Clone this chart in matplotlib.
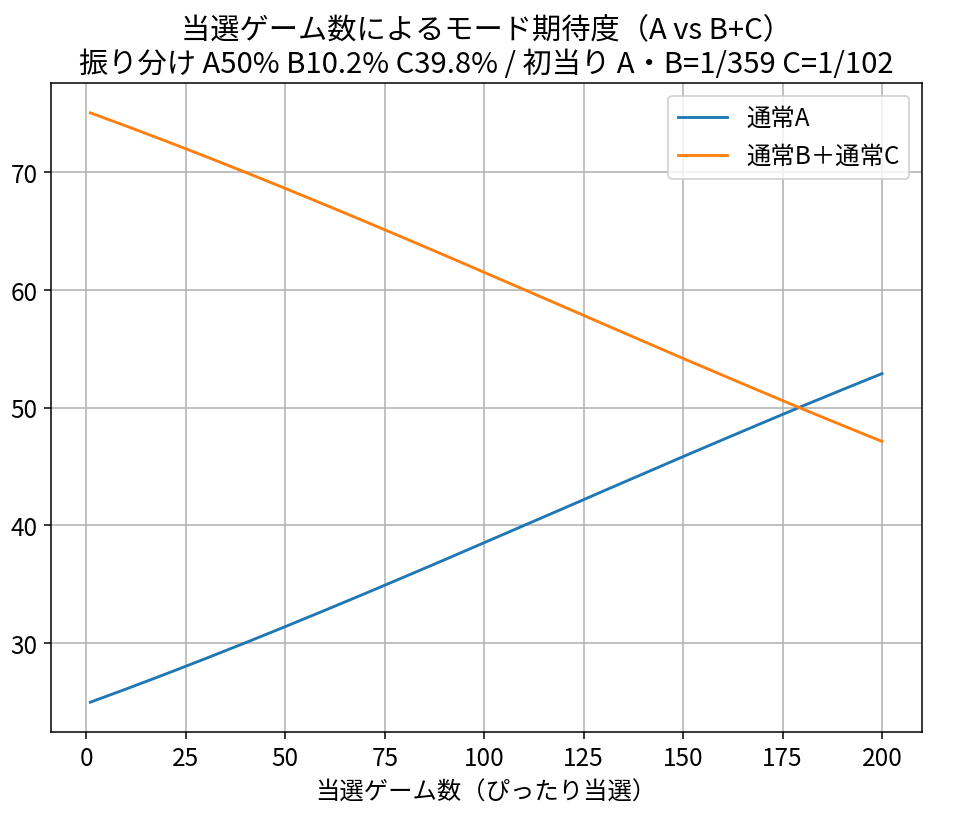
import matplotlib.pyplot as plt

plt.rcParams['font.family'] = ['Noto Sans CJK JP', 'DejaVu Sans']
plt.rcParams['font.size'] = 12.8

# ── DATA ──────────────────────────────────────────────────────────────
games = [1, 10, 20, 30, 40, 50, 60, 70, 80, 90, 100,
         110, 120, 130, 140, 150, 160, 170, 180, 190, 200]
mode_a = [24.97, 26.09, 27.37, 28.68, 30.02, 31.39, 32.78, 34.19, 35.62,
          37.06, 38.52, 39.98, 41.44, 42.91, 44.37, 45.83, 47.27, 48.70,
          50.12, 51.51, 52.88]
mode_bc = [100 - v for v in mode_a]

# ── PLOT ──────────────────────────────────────────────────────────────
fig, ax = plt.subplots(figsize=(7.0, 6.02), dpi=137)
fig.subplots_adjust(left=0.053, right=0.961, top=0.898, bottom=0.112)

ax.plot(games, mode_a, label="通常A")
ax.plot(games, mode_bc, label="通常B＋通常C")
ax.set_title("当選ゲーム数によるモード期待度（A vs B+C）\n"
             "振り分け A50% B10.2% C39.8% / 初当り A・B=1/359 C=1/102")
ax.set_xlabel("当選ゲーム数（ぴったり当選）")
ax.grid(True)
ax.legend(loc="upper right")

plt.savefig("out.png")
